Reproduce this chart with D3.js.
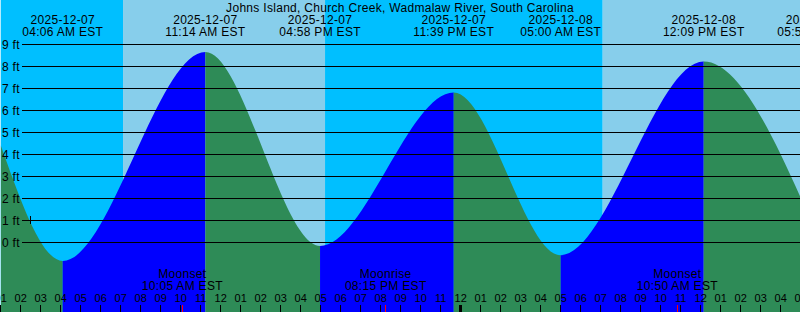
<!DOCTYPE html>
<html><head><meta charset="utf-8">
<script src="https://cdn.jsdelivr.net/npm/d3@7"></script>
<style>
body{margin:0;background:#fff}
svg{display:block;font-family:"Liberation Sans",Arial,Helvetica,sans-serif}
</style>
</head><body>
<svg id="c" width="800" height="312"></svg>
<script>
// ---- data ----
const title = "Johns Island, Church Creek, Wadmalaw River, South Carolina";
const domainTimes = ["2025-12-07 01:00", "2025-12-08 17:00"];
// first entry = value at the left edge, the rest are high / low tide events
const tideTimes = ["2025-12-07 01:00", "2025-12-07 04:06", "2025-12-07 11:14", "2025-12-07 16:58",
                   "2025-12-07 23:39", "2025-12-08 05:00", "2025-12-08 12:09", "2025-12-08 17:52"];
const tideHeights = [4.4, -0.86, 8.64, -0.18, 6.8, -0.6, 8.2, 0.2];
const sunTimes = ["2025-12-07 07:07", "2025-12-07 17:13", "2025-12-08 07:06"];
const sunTypes = ["rise", "set", "rise"];
const moonTimes = ["2025-12-07 10:05", "2025-12-07 20:15", "2025-12-08 10:50"];
const moonTypes = ["Moonset", "Moonrise", "Moonset"];
const levelTicks = [0, 1, 2, 3, 4, 5, 6, 7, 8, 9];
const markTime = "2025-12-07 02:28";
const markLevel = 1;

// ---- setup ----
const W = 800, H = 312;
const parse = d3.utcParse("%Y-%m-%d %H:%M");
const svg = d3.select("#c");
const x = d3.scaleUtc().domain(domainTimes.map(parse)).range([0.7, 800.7]);
const y = d3.scaleLinear().domain([0, 9]).range([242, 44]);
const dayColor = "#87CEEB", nightColor = "#00BFFF", riseColor = "#0000FF", fallColor = "#2E8B57";
const LS = "0.3px";

// background day/night bands
const d0 = x.domain()[0], d1 = x.domain()[1];
const bounds = [d0, ...sunTimes.map(parse), d1];
const bands = [];
for (let i = 0; i < bounds.length - 1; i++) {
  const isDay = i > 0 && sunTypes[i - 1] === "rise";
  bands.push({a: bounds[i], b: bounds[i + 1], day: isDay});
}
svg.append("g").selectAll("rect").data(bands).join("rect")
  .attr("x", d => x(d.a)).attr("width", d => Math.max(0, x(d.b) - x(d.a)))
  .attr("y", 0).attr("height", H)
  .attr("fill", d => d.day ? dayColor : nightColor);

// tide area
const pts = tideTimes.map((t, i) => ({t: parse(t), h: tideHeights[i]}));
const area = d3.area().x(d => x(d.t)).y0(H).y1(d => y(d.h)).curve(d3.curveMonotoneX);
const defs = svg.append("defs");
for (let i = 0; i < pts.length - 1; i++) {
  const a = pts[i], b = pts[i + 1];
  const id = "seg" + i;
  defs.append("clipPath").attr("id", id).append("rect")
    .attr("x", x(a.t)).attr("width", x(b.t) - x(a.t)).attr("y", 0).attr("height", H);
  svg.append("path").datum(pts).attr("d", area)
    .attr("clip-path", `url(#${id})`)
    .attr("fill", b.h > a.h ? riseColor : fallColor);
}

// grid lines + labels
const grid = svg.append("g");
grid.selectAll("line").data(levelTicks).join("line")
  .attr("x1", 22).attr("x2", W).attr("y1", d => y(d)).attr("y2", d => y(d))
  .attr("stroke", "#000").attr("stroke-width", 1).attr("shape-rendering", "crispEdges");
grid.selectAll("text").data(levelTicks).join("text")
  .attr("x", 2).attr("y", d => y(d) + 4.5).attr("font-size", 12).attr("letter-spacing", LS)
  .attr("fill", "#000").text(d => d + " ft");

// level mark
svg.append("line").attr("x1", x(parse(markTime))).attr("x2", x(parse(markTime)))
  .attr("y1", y(markLevel) - 4).attr("y2", y(markLevel) + 4)
  .attr("stroke", "#000").attr("shape-rendering", "crispEdges");

// title
svg.append("text").attr("x", 400).attr("y", 11.5).attr("text-anchor", "middle")
  .attr("font-size", 12).attr("letter-spacing", LS).attr("fill", "#000").text(title);

// tide event labels
const fDate = d3.utcFormat("%Y-%m-%d"), fTime = d3.utcFormat("%I:%M %p EST");
const ev = svg.append("g").selectAll("g").data(pts.slice(1)).join("g");
ev.append("text").attr("x", d => x(d.t)).attr("y", 24).attr("text-anchor", "middle")
  .attr("font-size", 12).attr("letter-spacing", LS).attr("fill", "#000").text(d => fDate(d.t));
ev.append("text").attr("x", d => x(d.t)).attr("y", 36).attr("text-anchor", "middle")
  .attr("font-size", 12).attr("letter-spacing", LS).attr("fill", "#000").text(d => fTime(d.t));

// hour axis
const hours = d3.utcHour.range(d0, d3.utcHour.offset(d1, 1));
const fHour = d3.utcFormat("%I");
const ax = svg.append("g");
ax.selectAll("line").data(hours).join("line")
  .attr("x1", d => x(d)).attr("x2", d => x(d)).attr("y1", 305).attr("y2", H)
  .attr("stroke", "#000").attr("stroke-width", d => d.getUTCHours() === 0 ? 3 : 1)
  .attr("shape-rendering", "crispEdges");
ax.selectAll("text").data(hours).join("text")
  .attr("x", d => x(d)).attr("y", 301.5).attr("text-anchor", "middle")
  .attr("font-size", 11).attr("fill", "#000").text(d => fHour(d));

// moon events
const moon = moonTimes.map((t, i) => ({t: parse(t), type: moonTypes[i]}));
const mg = svg.append("g").selectAll("g").data(moon).join("g");
mg.append("line").attr("x1", d => x(d.t)).attr("x2", d => x(d.t)).attr("y1", 305).attr("y2", H)
  .attr("stroke", "#FF0000").attr("shape-rendering", "crispEdges");
mg.append("text").attr("x", d => x(d.t)).attr("y", 277.5).attr("text-anchor", "middle")
  .attr("font-size", 12).attr("letter-spacing", LS).attr("fill", "#000").text(d => d.type);
mg.append("text").attr("x", d => x(d.t)).attr("y", 289.5).attr("text-anchor", "middle")
  .attr("font-size", 12).attr("letter-spacing", LS).attr("fill", "#000").text(d => fTime(d.t));
</script>
</body></html>
